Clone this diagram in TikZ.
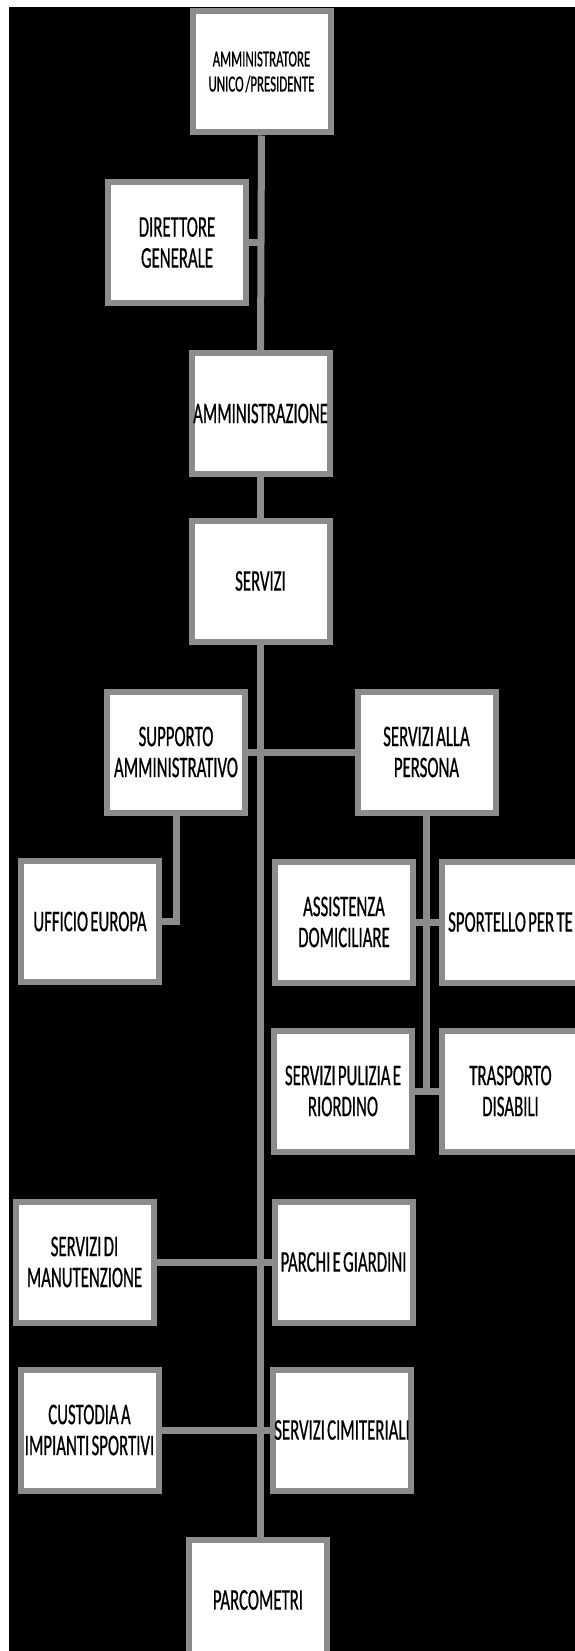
\documentclass[tikz,border=0pt]{standalone}
\usepackage{fontspec}
\setmainfont{Carlito}[FakeStretch=0.56,WordSpace=0.6,FakeBold=0.6]
\usepackage{tikz}
\definecolor{hatch}{gray}{0.55}

\begin{document}
\begin{tikzpicture}[x=1pt,y=-1pt,
    box/.style={draw=hatch,line width=6pt,fill=white,minimum width=138pt,minimum height=121pt,inner sep=0pt,align=center,font=\fontsize{30}{31}\selectfont},
    link/.style={draw=hatch,line width=7pt}]
    \useasboundingbox (0,0) rectangle (575,1651);
    \clip (0,0) rectangle (575,1651);
    \fill[black] (9,7) rectangle (575,1651);
    \node[box,font=\fontsize{23}{25}\selectfont] (amm) at (261.5,72) {AMMINISTRATORE\\UNICO /PRESIDENTE};
    \node[box] (dir) at (177,242.5) {DIRETTORE\\GENERALE};
    \node[box] (admin) at (260.5,413.5) {AMMINISTRAZIONE};
    \node[box] (serv) at (260.5,581) {SERVIZI};
    \node[box] (supp) at (176,752) {SUPPORTO\\AMMINISTRATIVO};
    \node[box] (pers) at (426.5,752) {SERVIZI ALLA\\PERSONA};
    \node[box] (uff) at (90,921.5) {UFFICIO EUROPA};
    \node[box] (ass) at (344,922) {ASSISTENZA\\DOMICILIARE};
    \node[box] (sport) at (510.5,922) {SPORTELLO PER TE};
    \node[box] (pul) at (343,1091) {SERVIZI PULIZIA E\\RIORDINO};
    \node[box] (tras) at (510.5,1091) {TRASPORTO\\DISABILI};
    \node[box] (man) at (84.5,1262) {SERVIZI DI\\MANUTENZIONE};
    \node[box] (parchi) at (343.5,1262) {PARCHI E GIARDINI};
    \node[box] (cust) at (89.5,1430) {CUSTODIA A\\IMPIANTI SPORTIVI};
    \node[box] (cim) at (342,1430) {SERVIZI CIMITERIALI};
    \node[box] (parc) at (258,1600) {PARCOMETRI};
    \draw[link] (amm.south) -- (admin.north);
    \draw[link] (dir.east) -- (dir.east -| amm.south);
    \draw[link] (admin.south) -- (serv.north);
    \draw[link] (serv.south) -- (serv.south |- parc.north);
    \draw[link] (supp.east) -- (pers.west);
    \draw[link] (supp.south) |- (uff.east);
    \draw[link] (pers.south) -- (pers.south |- tras.west);
    \draw[link] (ass.east) -- (sport.west);
    \draw[link] (pul.east) -- (tras.west);
    \draw[link] (man.east) -- (parchi.west);
    \draw[link] (cust.east) -- (cim.west);
\end{tikzpicture}
\end{document}
